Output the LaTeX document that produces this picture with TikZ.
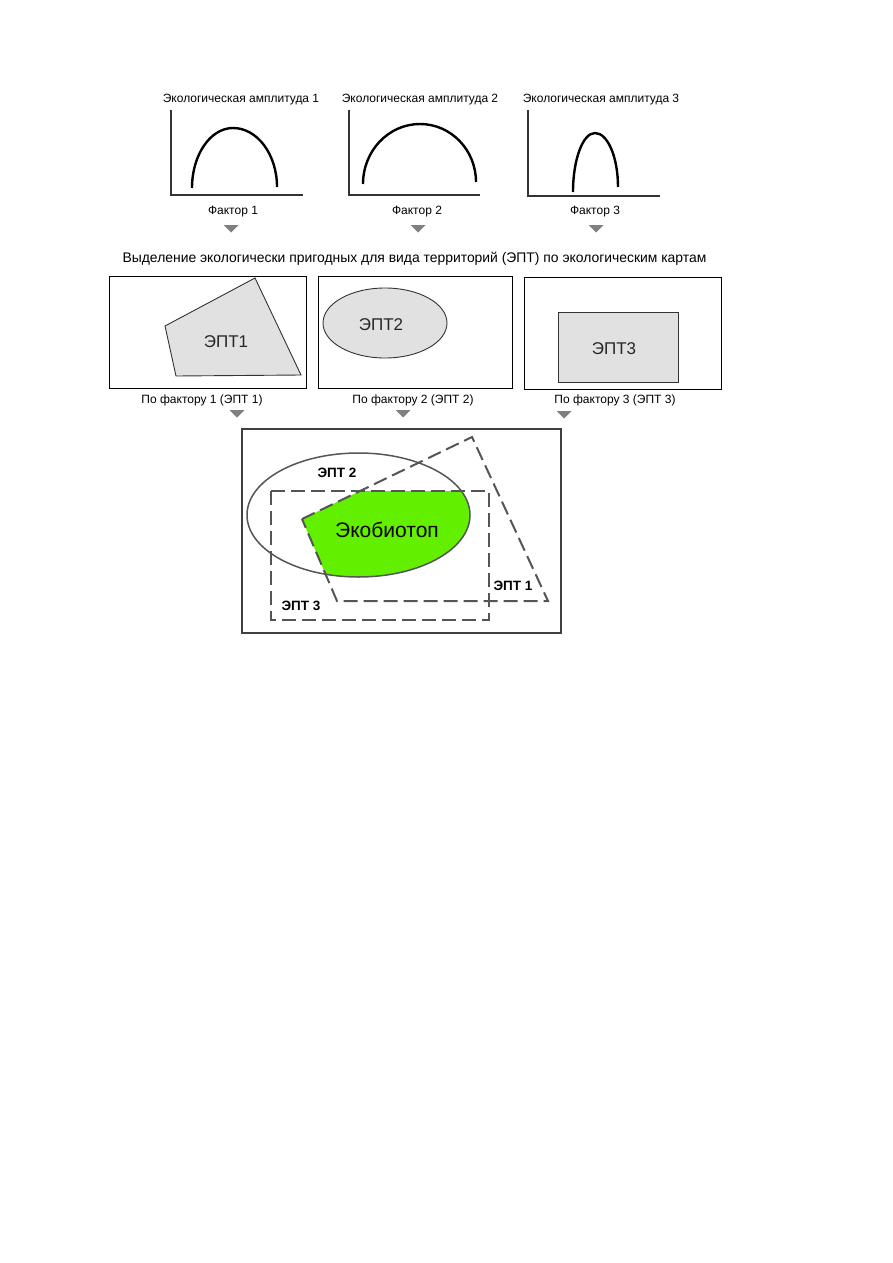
\documentclass[tikz,border=0pt]{standalone}
\usepackage{fontspec}
\setmainfont{Liberation Sans}
\definecolor{ecogreen}{RGB}{98,240,0}
\definecolor{mapfill}{RGB}{225,225,225}
\definecolor{dgray}{RGB}{85,85,85}
\definecolor{trigray}{RGB}{128,128,128}
\begin{document}
\begin{tikzpicture}[x=1pt,y=-1pt,
  lbl/.style={inner sep=0pt, font=\fontsize{12}{14}\selectfont},
  maplbl/.style={inner sep=0pt, font=\fontsize{17}{19}\selectfont, text=black!85},
  boldlbl/.style={inner sep=0pt, font=\fontsize{13.5}{15}\selectfont\bfseries},
  axis/.style={draw=black!80, line width=1.2pt},
  curve/.style={draw=black, line width=2.4pt},
  mapbox/.style={draw=black, line width=0.9pt},
  region/.style={draw=black!80, fill=mapfill, line width=0.9pt},
  ept/.style={draw=dgray, line width=2pt, dash pattern=on 14pt off 6pt},
  eptell/.style={draw=dgray, line width=1.5pt},
  marker/.style={fill=trigray, draw=none}]
\useasboundingbox (0,0) rectangle (893,1263);

% ---------- top charts ----------
\node[lbl] (t1) at (241,100) {Экологическая амплитуда 1};
\node[lbl] (t2) at (420,100) {Экологическая амплитуда 2};
\node[lbl] (t3) at (601,100) {Экологическая амплитуда 3};

\draw[axis] (171,110) -- (171,195) -- (303,195);
\draw[axis] (349,110) -- (349,195) -- (480,195);
\draw[axis] (528,110) -- (528,196) -- (660,196);

\draw[curve] (192,188) arc[start angle=180, end angle=270, x radius=41, y radius=60]
                       arc[start angle=270, end angle=360, x radius=44, y radius=59];
\draw[curve] (363,184) arc[start angle=180, end angle=270, x radius=57, y radius=60]
                       arc[start angle=270, end angle=360, x radius=56, y radius=58];
\draw[curve] (573,192) arc[start angle=180, end angle=270, x radius=22, y radius=59]
                       arc[start angle=270, end angle=360, x radius=23, y radius=54];

\node[lbl] (f1) at (233,212) {Фактор 1};
\node[lbl] (f2) at (417,212) {Фактор 2};
\node[lbl] (f3) at (595,212) {Фактор 3};

\foreach \mx/\my in {231/225, 418/225, 596/225, 237/410, 403/410, 564/411}{
  \fill[marker] (\mx-7.5,\my) -- (\mx+7.5,\my) -- (\mx,\my+7.5) -- cycle;
}

% ---------- title ----------
\node[lbl, font=\fontsize{13.9}{16}\selectfont] (main) at (414.5,259) {Выделение экологически пригодных для вида территорий (ЭПТ) по экологическим картам};

% ---------- maps ----------
\draw[mapbox] (109,276) rectangle (306,388);
\draw[region] (165,326) -- (255,278) -- (301,375) -- (176,376) -- cycle;
\node[maplbl] (e1) at (226,342) {ЭПТ1};

\draw[mapbox] (318,276) rectangle (512,388);
\draw[region] (385,323) ellipse [x radius=62, y radius=35];
\node[maplbl] (e2) at (381,325) {ЭПТ2};

\draw[mapbox] (524,277) rectangle (721,389);
\draw[region] (558,312) rectangle (678,382);
\node[maplbl] (e3) at (614,349) {ЭПТ3};

\node[lbl] (p1) at (202,400) {По фактору 1 (ЭПТ 1)};
\node[lbl] (p2) at (413,400) {По фактору 2 (ЭПТ 2)};
\node[lbl] (p3) at (615,400) {По фактору 3 (ЭПТ 3)};

% ---------- combined ----------
\draw[mapbox, draw=black!75, line width=1.3pt] (242,429) rectangle (561,633);
\begin{scope}
  \clip (358.5,515) ellipse [x radius=111.5, y radius=62];
  \clip (302,519) -- (472,437) -- (548,601) -- (337,601) -- cycle;
  \clip (271,491) rectangle (489,620);
  \fill[ecogreen] (242,429) rectangle (561,633);
\end{scope}
\draw[eptell] (358.5,515) ellipse [x radius=111.5, y radius=62];
\draw[ept] (271,491) rectangle (489,620);
\draw[ept] (302,519) -- (472,437) -- (548,601) -- (337,601) -- cycle;

\node[boldlbl] (b2) at (337,473) {ЭПТ 2};
\node[boldlbl] (b1) at (513,586) {ЭПТ 1};
\node[boldlbl] (b3) at (301,606) {ЭПТ 3};
\node[inner sep=0pt, font=\fontsize{21}{24}\selectfont] (eco) at (387,530) {Экобиотоп};
\end{tikzpicture}
\end{document}
